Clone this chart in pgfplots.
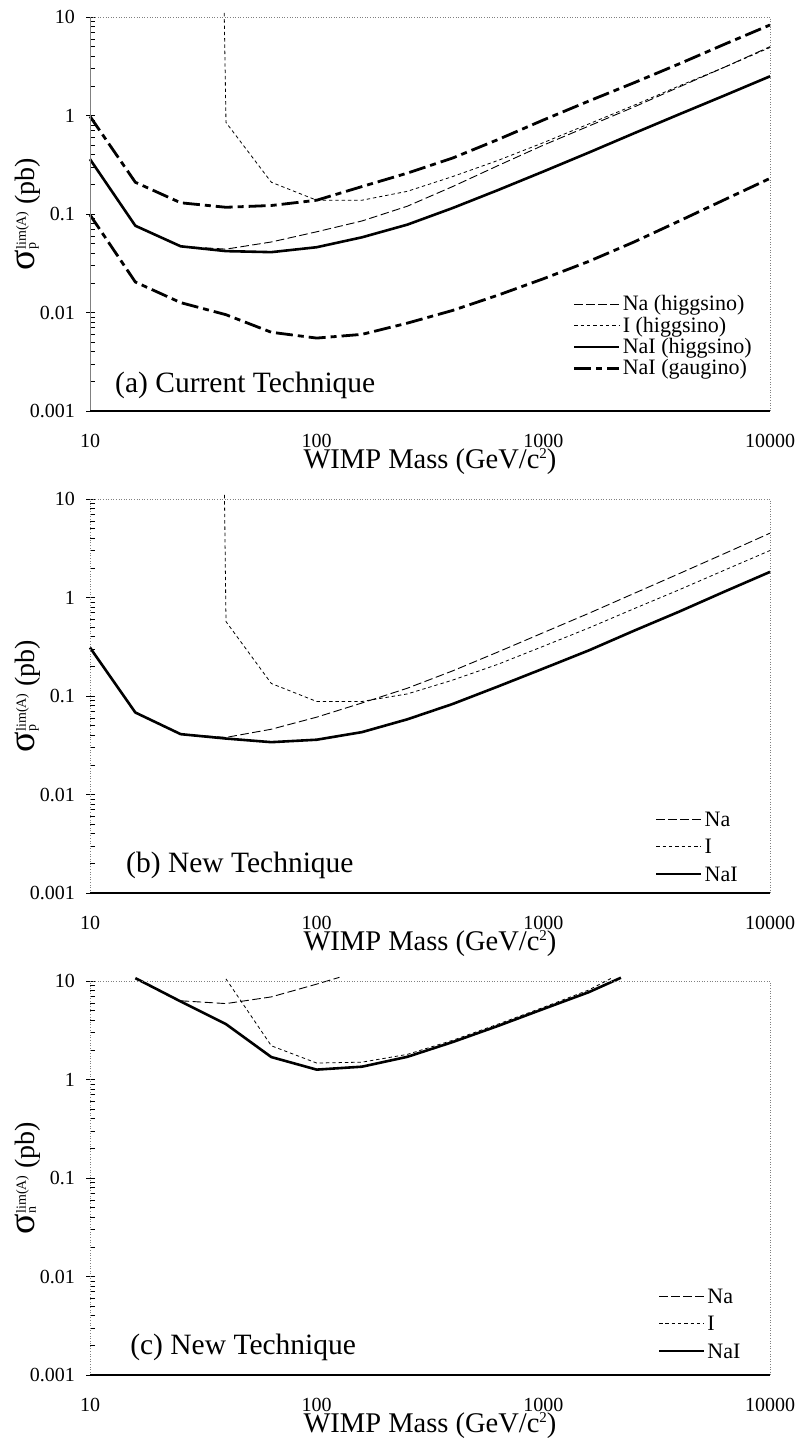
\documentclass[border=0pt]{standalone}
\usepackage{pgfplots}
\pgfplotsset{compat=1.18}
\usepackage{fontspec}
\setmainfont{Liberation Serif}

% y label: sigma with sub/superscript
\newcommand{\sig}[1]{{\fontsize{38bp}{38bp}\selectfont σ}\rlap{\fontsize{14bp}{14bp}\selectfont\raisebox{-1bp}{#1}}{\fontsize{14bp}{14bp}\selectfont\raisebox{9bp}{lim(A)}} (pb)}
\newcommand{\csq}{c{\fontsize{15bp}{15bp}\selectfont\raisebox{10bp}{2}}}

\pgfplotsset{
  wimpaxis/.style={
    width=680bp, height=394bp, scale only axis,
    xmin=10, xmax=10000, ymin=0.001, ymax=10,
    clip=false,
    axis line style={draw=none},
    xtick={10,100,1000,10000}, xticklabels={10,100,1000,10000},
    xtick style={draw=none}, xminorticks=false,
    ytick={0.001,0.01,0.1,1,10}, yticklabels={0.001,0.01,0.1,1,10},
    ytick pos=left, ytick align=inside,
    major tick length=5bp, minor tick length=5bp,
    ytick style={black, line width=0.6bp},
    extra y ticks={0.001,0.01,0.1,1,10}, extra y tick labels={,,,,},
    extra y tick style={tick align=outside, major tick length=4bp},
    tick label style={font=\fontsize{20bp}{20bp}\selectfont},
    yticklabel style={anchor=east, inner sep=0pt, xshift=-15bp},
    xticklabel style={anchor=base, inner sep=0pt, yshift=-36bp, text depth=0bp},
    every axis x label/.style={at={(rel axis cs:0.5,-0.1447)}, anchor=base,
      inner sep=0pt, text height=19bp, text depth=6bp,
      font=\fontsize{28.5bp}{28.5bp}\selectfont},
    every axis y label/.style={at={(rel axis cs:-0.0809,0.5)}, rotate=90, anchor=base,
      font=\fontsize{28bp}{28bp}\selectfont},
    xlabel={WIMP Mass (GeV/\csq)},
    legend cell align=left,
    legend image code/.code={\draw[##1] (0bp,0bp) -- (45bp,0bp);},
  },
  legA/.style={legend style={draw=none, fill=none, inner sep=0pt, outer sep=0pt,
      font=\fontsize{22bp}{22bp}\selectfont, row sep=0pt,
      nodes={inner sep=0pt, text height=17.15bp, text depth=4.15bp},
      /tikz/every odd column/.append style={column sep=2bp},
      at={(rel axis cs:0.7103,0.298)}, anchor=north west}},
  legB/.style={legend style={draw=none, fill=none, inner sep=0pt, outer sep=0pt,
      font=\fontsize{22bp}{22bp}\selectfont, row sep=0pt,
      nodes={inner sep=0pt, text height=20.75bp, text depth=6.75bp},
      /tikz/every odd column/.append style={column sep=2bp},
      at={(rel axis cs:#1)}, anchor=north west}},
}
\tikzset{
  stna/.style={black, line width=0.9bp, dash pattern=on 8.5bp off 3.5bp, line join=round},
  stio/.style={black, line width=0.8bp, dash pattern=on 3.4bp off 2.9bp, line join=round},
  stnai/.style={black, line width=2.6bp, line join=round},
  stgau/.style={black, line width=2.8bp, dash pattern=on 17bp off 5bp on 6bp off 5bp, line join=round},
}

\newcommand{\frameit}[1]{%
  \draw[gray, line width=0.6bp, dotted] (rel axis cs:0,1) -- (rel axis cs:1,1) -- (rel axis cs:1,0);
  \draw[gray, line width=0.6bp, #1] (rel axis cs:0,0) -- (rel axis cs:0,1);
  \draw[black, line width=1.3bp] (rel axis cs:0,0) -- (rel axis cs:1,0);
}

\begin{document}
\begin{tikzpicture}

% ---------------- (a) current technique
\begin{axis}[xmode=log, ymode=log, wimpaxis, legA, at={(0,0)}, ylabel={\sig{p}}]
\addplot[stna] coordinates {(25.12,0.047)(39.81,0.044)(63.1,0.052)(100,0.066)(158.5,0.085)(251.2,0.12)(398.1,0.19)(631,0.31)(1000,0.5)(1585,0.78)(2512,1.22)(3981,1.95)(6310,3.1)(10000,5.0)};
\addlegendentry{Na (higgsino)}
\addplot[stio] coordinates {(39.1,11)(39.81,0.85)(63.1,0.21)(100,0.138)(158.5,0.138)(251.2,0.17)(398.1,0.24)(631,0.35)(1000,0.53)(1585,0.82)(2512,1.27)(3981,2.0)(6310,3.1)(10000,4.9)};
\addlegendentry{I (higgsino)}
\addplot[stnai] coordinates {(10,0.36)(15.85,0.076)(25.12,0.047)(39.81,0.042)(63.1,0.041)(100,0.046)(158.5,0.058)(251.2,0.078)(398.1,0.115)(631,0.175)(1000,0.27)(1585,0.42)(2512,0.66)(3981,1.03)(6310,1.6)(10000,2.5)};
\addlegendentry{NaI (higgsino)}
\addplot[stgau] coordinates {(10,0.98)(15.85,0.21)(25.12,0.13)(39.81,0.117)(63.1,0.122)(100,0.138)(158.5,0.19)(251.2,0.26)(398.1,0.37)(631,0.57)(1000,0.9)(1585,1.4)(2512,2.15)(3981,3.35)(6310,5.3)(10000,8.3)};
\addlegendentry{NaI (gaugino)}
\addplot[stgau, forget plot] coordinates {(10,0.098)(15.85,0.0204)(25.12,0.0126)(39.81,0.0095)(63.1,0.0063)(100,0.0055)(158.5,0.006)(251.2,0.0078)(398.1,0.0105)(631,0.015)(1000,0.022)(1585,0.033)(2512,0.052)(3981,0.085)(6310,0.14)(10000,0.23)};
\frameit{solid}
\node[anchor=base west, inner sep=0pt, font=\fontsize{29.5bp}{29.5bp}\selectfont] at (rel axis cs:0.0368,0.048) {(a) Current Technique};
\end{axis}

% ---------------- (b) new technique, proton
\begin{axis}[xmode=log, ymode=log, wimpaxis, legB={0.8309,0.2227}, at={(0,-482bp)}, ylabel={\sig{p}}]
\addplot[stna] coordinates {(25.12,0.041)(39.81,0.038)(63.1,0.046)(100,0.061)(158.5,0.085)(251.2,0.12)(398.1,0.18)(631,0.28)(1000,0.44)(1585,0.69)(2512,1.1)(3981,1.75)(6310,2.8)(10000,4.5)};
\addlegendentry{Na}
\addplot[stio] coordinates {(39.2,11)(39.81,0.57)(63.1,0.134)(100,0.088)(158.5,0.088)(251.2,0.105)(398.1,0.145)(631,0.21)(1000,0.32)(1585,0.49)(2512,0.77)(3981,1.2)(6310,1.9)(10000,3.0)};
\addlegendentry{I}
\addplot[stnai] coordinates {(10,0.31)(15.85,0.068)(25.12,0.041)(39.81,0.037)(63.1,0.034)(100,0.036)(158.5,0.043)(251.2,0.058)(398.1,0.083)(631,0.125)(1000,0.19)(1585,0.29)(2512,0.46)(3981,0.72)(6310,1.15)(10000,1.82)};
\addlegendentry{NaI}
\frameit{dotted}
\node[anchor=base west, inner sep=0pt, font=\fontsize{29.5bp}{29.5bp}\selectfont] at (rel axis cs:0.053,0.053) {(b) New Technique};
\end{axis}

% ---------------- (c) new technique, neutron
\begin{axis}[xmode=log, ymode=log, wimpaxis, legB={0.835,0.2354}, at={(0,-964bp)}, ylabel={\sig{n}}]
\addplot[stna] coordinates {(25.12,6.3)(39.81,5.9)(63.1,6.9)(100,9.3)(126,10.9)};
\addlegendentry{Na}
\addplot[stio] coordinates {(39.81,10.5)(63.1,2.2)(100,1.47)(158.5,1.5)(251.2,1.8)(398.1,2.5)(631,3.65)(1000,5.4)(1585,8.1)(2000,10.7)};
\addlegendentry{I}
\addplot[stnai] coordinates {(15.85,10.7)(25.12,6.2)(39.81,3.65)(63.1,1.69)(100,1.26)(158.5,1.35)(251.2,1.7)(398.1,2.4)(631,3.5)(1000,5.2)(1585,7.7)(2200,10.8)};
\addlegendentry{NaI}
\frameit{dotted}
\node[anchor=base west, inner sep=0pt, font=\fontsize{29.5bp}{29.5bp}\selectfont] at (rel axis cs:0.059,0.051) {(c) New Technique};
\end{axis}

\pgfresetboundingbox
\path[use as bounding box] (-90bp,-1037bp) rectangle (713bp,411bp);
\end{tikzpicture}
\end{document}
